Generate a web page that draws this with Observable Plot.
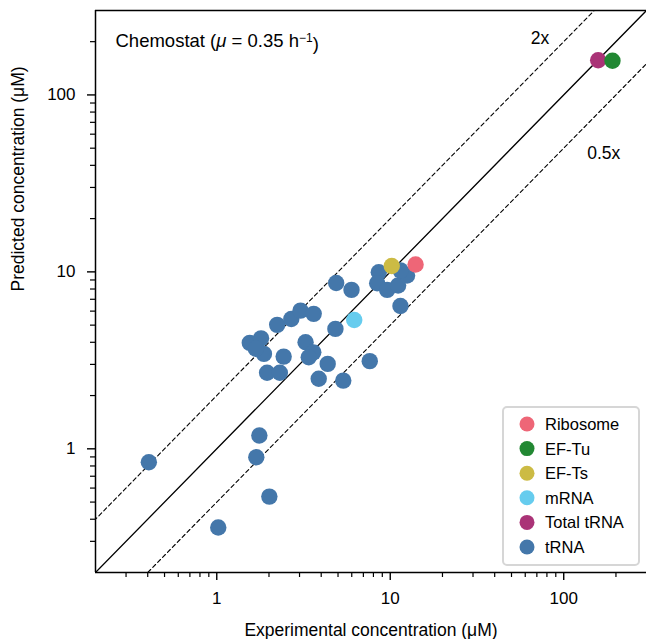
<!DOCTYPE html>
<html><head><meta charset="utf-8">
<script src="https://cdn.jsdelivr.net/npm/d3@7"></script>
<script src="https://cdn.jsdelivr.net/npm/@observablehq/plot@0.6"></script>
<style>
body{margin:0;background:#fff;font-family:"Liberation Sans",Arial,Helvetica,sans-serif;}
#wrap{position:relative;width:646px;height:639px;overflow:hidden;}
#legend{position:absolute;left:502px;top:406px;}
</style></head><body><div id="wrap"></div>
<script>
// ---- data ----
const categories = ["Ribosome","EF-Tu","EF-Ts","mRNA","Total tRNA","tRNA"];
const colors = ["#EE6677","#228833","#CCBB44","#66CCEE","#AA3377","#4477AA"];
const drawOrder = ["tRNA","Total tRNA","mRNA","EF-Ts","EF-Tu","Ribosome"];

const ribosomeExp = [14.0],  ribosomePred = [11.0];
const efTuExp = [191],       efTuPred = [156];
const efTsExp = [10.2],      efTsPred = [10.8];
const mrnaExp = [6.2],       mrnaPred = [5.35];
const totalTrnaExp = [158],  totalTrnaPred = [157];
const trnaExp  = [0.406,1.02,2.01,1.69,1.76,2.23,2.69,3.04,3.62,1.55,1.80,1.87,1.68,2.43,1.95,2.31,3.25,3.60,3.39,4.36,3.87,5.36,7.62,4.83,4.88,5.98,11.45,8.59,8.41,9.60,11.1,12.5,11.45];
const trnaPred = [0.840,0.359,0.537,0.896,1.19,5.02,5.42,6.04,5.79,3.97,4.21,3.44,3.68,3.32,2.69,2.69,4.00,3.51,3.29,3.02,2.49,2.43,3.13,4.76,8.66,7.91,6.41,9.95,8.62,7.91,8.37,9.53,10.2];

const domain = [0.2, 300];
const majorTicks = [1, 10, 100];
const minorTicks = [0.3,0.4,0.5,0.6,0.7,0.8,0.9,2,3,4,5,6,7,8,9,20,30,40,50,60,70,80,90,200];
const refRatios = [{k:1, dash:null}, {k:2, dash:"4,3"}, {k:0.5, dash:"4,3"}];
const refXs = [0.05, 2000];
const annotations = [{x:73, y:210, t:"2x"}, {x:170, y:47, t:"0.5x"}];
const titleText = "Chemostat (μ = 0.35 h⁻¹)";
const xLabel = "Experimental concentration (μM)";
const yLabel = "Predicted concentration (μM)";

// ---- build table ----
const series = {
  "Ribosome": [ribosomeExp, ribosomePred],
  "EF-Tu": [efTuExp, efTuPred],
  "EF-Ts": [efTsExp, efTsPred],
  "mRNA": [mrnaExp, mrnaPred],
  "Total tRNA": [totalTrnaExp, totalTrnaPred],
  "tRNA": [trnaExp, trnaPred]
};
const rows = [];
for (const c of drawOrder) {
  const [ex, pr] = series[c];
  ex.forEach((v, i) => rows.push({cat: c, exp: v, pred: pr[i]}));
}
const refLines = refRatios.flatMap(r => refXs.map(x => ({k: r.k, dash: r.dash, x, y: x * r.k})));

const font = `"Liberation Sans", Arial, Helvetica, sans-serif`;

const chart = Plot.plot({
  width: 646, height: 639,
  marginLeft: 95, marginTop: 10, marginRight: 0, marginBottom: 67,
  style: {fontFamily: font, fontSize: "17px", color: "#000", background: "#fff"},
  x: {type: "log", domain, label: null},
  y: {type: "log", domain, label: null},
  color: {domain: categories, range: colors},
  marks: [
    ...refRatios.map(r => Plot.line(refLines.filter(d => d.k === r.k), {
      x: "x", y: "y", stroke: "#000", strokeWidth: r.dash ? 1.1 : 1.3,
      strokeDasharray: r.dash ?? undefined, clip: true
    })),
    Plot.dot(rows, {x: "exp", y: "pred", fill: "cat", r: 8.2}),
    Plot.ruleX([domain[0]], {stroke: "#000", strokeWidth: 1.5}),
    Plot.ruleY([domain[0]], {stroke: "#000", strokeWidth: 1.5}),
    Plot.ruleY([domain[1]], {stroke: "#000", strokeWidth: 1.5}),
    Plot.axisX(majorTicks, {tickSize: 8, tickPadding: 11, tickFormat: d => String(d), label: null, fontSize: 17, strokeWidth: 1.4}),
    Plot.axisX(minorTicks, {tickSize: 5, tickFormat: () => "", label: null, strokeWidth: 1.2}),
    Plot.axisY(majorTicks, {tickSize: 8, tickPadding: 12, tickFormat: d => String(d), label: null, fontSize: 17, strokeWidth: 1.4}),
    Plot.axisY(minorTicks, {tickSize: 5, tickFormat: () => "", label: null, strokeWidth: 1.2}),
    Plot.text(annotations, {x: "x", y: "y", text: "t", fontSize: 17.5, fill: "#000"}),
    Plot.text([xLabel], {frameAnchor: "bottom", lineAnchor: "middle", dy: 58, fontSize: 17.5, fill: "#000"}),
    Plot.text([yLabel], {frameAnchor: "left", lineAnchor: "middle", rotate: -90, dx: -77, fontSize: 17.5, fill: "#000"}),
    Plot.text([titleText], {frameAnchor: "top-left", lineAnchor: "middle", textAnchor: "start", dx: 20, dy: 31, fontSize: 18.5, fill: "#000"})
  ]
});
document.getElementById("wrap").appendChild(chart);

// italic mu and superscript in the title
d3.select(chart).selectAll("text").filter(function(){ return this.textContent === titleText; }).each(function(){
  const t = d3.select(this);
  t.text(null);
  t.append("tspan").text("Chemostat (");
  t.append("tspan").attr("font-style", "italic").text("μ");
  t.append("tspan").text(" = 0.35 h");
  t.append("tspan").attr("dy", "-0.45em").attr("font-size", "12px").text("−1");
  t.append("tspan").attr("dy", "0.45em").text(")");
});

// legend (inside plot frame, bottom-right)
const lg = d3.select("#wrap").append("div").attr("id", "legend")
  .append("svg").attr("width", 140).attr("height", 162);
lg.append("rect").attr("x", 1).attr("y", 1).attr("width", 136).attr("height", 158).attr("rx", 4)
  .attr("fill", "#fff").attr("stroke", "#d6d6d6").attr("stroke-width", 2);
categories.forEach((c, i) => {
  const g = lg.append("g").attr("transform", `translate(0,${18 + i * 24.6})`);
  g.append("circle").attr("cx", 25).attr("cy", 0).attr("r", 7.5).attr("fill", colors[i]);
  g.append("text").attr("x", 43).attr("y", 0).attr("dy", "0.36em").attr("font-size", 16.5)
    .attr("font-family", font).text(c);
});
</script>
</body></html>
